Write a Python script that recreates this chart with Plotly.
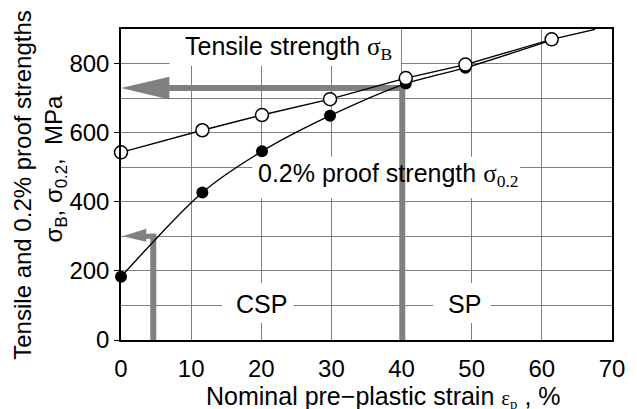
import plotly.graph_objects as go

# ---- data ----
strain = [0, 11.6, 20.1, 29.8, 40.6, 49.1, 61.4]
tensile = [543, 607, 651, 697, 758, 797, 870]
proof = [183, 427, 546, 649, 742, 788, 868]
tensile_ext_x = [61.4, 67.6]
tensile_ext_y = [870, 899]

x_ticks = [0, 10, 20, 30, 40, 50, 60, 70]
y_ticks = [0, 200, 400, 600, 800]

GRAY = "#808080"
FONT = "Liberation Sans, Arial, sans-serif"

fig = go.Figure()

# lines
fig.add_trace(go.Scatter(x=strain + tensile_ext_x[1:], y=tensile + tensile_ext_y[1:],
                         mode="lines", line=dict(color="black", width=1.4),
                         hoverinfo="skip", showlegend=False))
fig.add_trace(go.Scatter(x=strain, y=proof, mode="lines",
                         line=dict(color="black", width=1.4, shape="spline", smoothing=0.8),
                         hoverinfo="skip", showlegend=False))
# markers
fig.add_trace(go.Scatter(x=strain, y=proof, mode="markers",
                         marker=dict(color="black", size=12, line=dict(width=0)),
                         showlegend=False, cliponaxis=False))
fig.add_trace(go.Scatter(x=strain, y=tensile, mode="markers",
                         marker=dict(color="white", size=13, line=dict(color="black", width=1.5)),
                         showlegend=False, cliponaxis=False))

shapes = []
# white boxes hiding gridlines behind labels
for (x0, x1, y0, y1) in [(6.9, 39.9, 794, 900), (18.7, 56.9, 410, 530),
                         (14.4, 24.6, 49, 165), (44.5, 52.7, 49, 165)]:
    shapes.append(dict(type="rect", xref="x", yref="y", x0=x0, x1=x1, y0=y0, y1=y1,
                       fillcolor="white", line=dict(width=0), layer="between"))
# big arrow
shapes.append(dict(type="line", xref="x", yref="y", x0=40.1, x1=40.1, y0=0, y1=738,
                   line=dict(color=GRAY, width=6), layer="between"))
shapes.append(dict(type="line", xref="x", yref="y", x0=40.5, x1=6.5, y0=729, y1=729,
                   line=dict(color=GRAY, width=6), layer="between"))
shapes.append(dict(type="path", xref="x", yref="y",
                   path="M 0,729 L 6.9,762 L 6.9,696 Z",
                   fillcolor=GRAY, line=dict(width=0), layer="between"))
# small arrow
shapes.append(dict(type="line", xref="x", yref="y", x0=4.6, x1=4.6, y0=0, y1=308,
                   line=dict(color=GRAY, width=6), layer="between"))
shapes.append(dict(type="line", xref="x", yref="y", x0=4.9, x1=3.0, y0=300, y1=300,
                   line=dict(color=GRAY, width=5), layer="between"))
shapes.append(dict(type="path", xref="x", yref="y",
                   path="M 0.2,300 L 3.6,322 L 3.6,284 Z",
                   fillcolor=GRAY, line=dict(width=0), layer="between"))

F = dict(size=25, color="black", family=FONT)
FY = dict(size=24, color="black", family=FONT)
annotations = [
    dict(x=23.9, y=846, xref="x", yref="y", showarrow=False, xanchor="center", yanchor="middle",
         text="Tensile strength <span style='font-family:Liberation Serif'>σ<sub>B</sub></span>", font=F),
    dict(x=38.1, y=478, xref="x", yref="y", showarrow=False, xanchor="center", yanchor="middle",
         text="0.2% proof strength <span style='font-family:Liberation Serif'>σ<sub>0.2</sub></span>", font=F),
    dict(x=20.0, y=104, xref="x", yref="y", showarrow=False, xanchor="center", yanchor="middle",
         text="CSP", font=F),
    dict(x=48.9, y=104, xref="x", yref="y", showarrow=False, xanchor="center", yanchor="middle",
         text="SP", font=F),
    dict(x=0.534, y=-0.183, xref="paper", yref="paper", showarrow=False, xanchor="center", yanchor="middle",
         text="Nominal pre−plastic strain <span style='font-family:Liberation Serif;font-size:21px'>ε<sub>p</sub></span> , %",
         font=F),
    dict(x=-0.2004, y=0.498, xref="paper", yref="paper", showarrow=False, textangle=-90,
         xanchor="center", yanchor="middle",
         text="Tensile and 0.2% proof strengths", font=FY),
    dict(x=-0.1336, y=0.553, xref="paper", yref="paper", showarrow=False, textangle=-90,
         xanchor="center", yanchor="middle",
         text="σ<sub>B</sub>, σ<sub>0.2</sub>,  MPa", font=FY),
]

fig.update_layout(
    width=629, height=401,
    margin=dict(l=113, r=22, t=21, b=69),
    plot_bgcolor="white", paper_bgcolor="white",
    font=dict(family=FONT, size=24, color="black"),
    shapes=shapes, annotations=annotations,
    xaxis=dict(range=[0, 70], tickvals=x_ticks, ticktext=[str(v) for v in x_ticks],
               showgrid=True, gridcolor=GRAY, gridwidth=1,
               showline=True, linecolor="black", linewidth=1.5, mirror=True,
               ticks="", ticklabelstandoff=6, zeroline=False,
               tickfont=dict(size=24)),
    yaxis=dict(range=[0, 900], tickvals=y_ticks, ticktext=[str(v) for v in y_ticks],
               showgrid=True, gridcolor=GRAY, gridwidth=1,
               minor=dict(tickvals=[100, 300, 500, 700], showgrid=True, gridcolor=GRAY, gridwidth=1, ticks=""),
               showline=True, linecolor="black", linewidth=1.5, mirror=True,
               ticks="outside", ticklen=5, tickcolor="black", zeroline=False,
               tickfont=dict(size=24)),
)

fig.write_html("out.html")
